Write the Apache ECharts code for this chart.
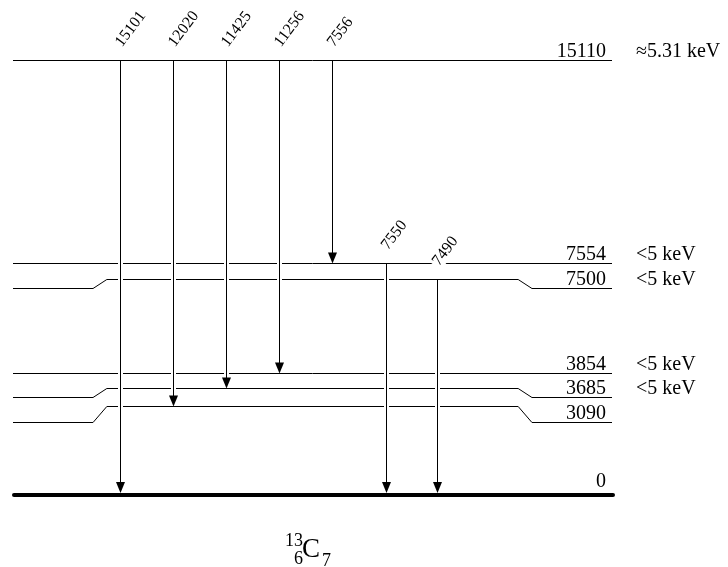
<!DOCTYPE html>
<html>
<head>
<meta charset="utf-8">
<script src="https://cdn.jsdelivr.net/npm/echarts@6/dist/echarts.min.js"></script>
<style>
html,body{margin:0;padding:0;background:#fff;}
#chart{width:728px;height:567px;}
</style>
</head>
<body>
<div id="chart"></div>
<script>
// ---- Data: 13C level scheme ----
// Level energies (keV) and widths
const levelEnergy = [15110, 7554, 7500, 3854, 3685, 3090, 0];
const levelWidth = ['\u22485.31 keV', '<5 keV', '<5 keV', '<5 keV', '<5 keV', '', ''];
// Schematic (drawn) position of the central part of each level, and of its outer parts
const levelDrawn = [15110, 8030, 7490, 4225, 3669, 3043, 0];
const levelSideDrawn = [null, null, 7180, null, 3356, 2521, null];

// Gamma transitions
const gammaEnergy = [15101, 12020, 11425, 11256, 7556, 7550, 7490];
const gammaFrom = [15110, 15110, 15110, 15110, 15110, 7554, 7500];
const gammaTo = [0, 3090, 3685, 3854, 7554, 0, 0];
const gammaColumn = [2.02, 3.02, 4.03, 5.02, 6.02, 7.05, 8.0];

const nucleus = { A: '13', Z: '6', symbol: 'C', N: '7' };

// ---- Layout constants ----
const X_MAX = 11.3;
const stepX = [1.51, 1.77, 9.53, 9.79];
const FONT = '"Liberation Serif", "Times New Roman", serif';
const LABEL_ANGLE = 53 * Math.PI / 180;

const crisp = v => Math.round(v - 0.5) + 0.5;

function renderLevel(params, api) {
  const i = params.dataIndex;
  const d = levelDrawn[i], s = levelSideDrawn[i];
  let pts = (s == null)
    ? [[0, d], [X_MAX, d]]
    : [[0, s], [stepX[0], s], [stepX[1], d], [stepX[2], d], [stepX[3], s], [X_MAX, s]];
  pts = pts.map(p => { const c = api.coord(p); return [c[0], crisp(c[1])]; });
  const ground = levelEnergy[i] === 0;
  const end = pts[pts.length - 1];
  const children = [];
  if (ground) {
    children.push({
      type: 'polyline',
      shape: { points: [[pts[0][0] + 1, Math.round(end[1])], [end[0] + 1, Math.round(end[1])]] },
      style: { stroke: '#000', lineWidth: 4, lineCap: 'round', fill: null }
    });
  } else {
    children.push({
      type: 'polyline',
      shape: { points: pts },
      style: { stroke: '#000', lineWidth: 1, fill: null }
    });
  }
  const ty = ground ? end[1] - 12.5 : end[1] - 9;
  children.push({
    type: 'text', x: end[0] - 6, y: ty,
    style: { text: String(levelEnergy[i]), align: 'right', verticalAlign: 'middle',
             font: '20px ' + FONT, fill: '#000' }
  });
  if (levelWidth[i]) {
    children.push({
      type: 'text', x: end[0] + 24, y: ty,
      style: { text: levelWidth[i], align: 'left', verticalAlign: 'middle',
               font: '20px ' + FONT, fill: '#000' }
    });
  }
  return { type: 'group', children };
}

function renderGamma(params, api) {
  const i = params.dataIndex;
  const fi = levelEnergy.indexOf(gammaFrom[i]);
  const ti = levelEnergy.indexOf(gammaTo[i]);
  const p0 = api.coord([gammaColumn[i], levelDrawn[fi]]);
  const p1 = api.coord([gammaColumn[i], levelDrawn[ti]]);
  const x = crisp(p0[0]);
  const y0 = crisp(p0[1]);
  const yTip = gammaTo[i] === 0 ? Math.round(p1[1]) - 2 : crisp(p1[1]);
  const ah = 11, aw = 4.5;
  return {
    type: 'group',
    children: [
      { type: 'line', shape: { x1: x, y1: y0 + 2, x2: x, y2: yTip - 2 },
        style: { stroke: '#fff', lineWidth: 5 } },
      { type: 'line', shape: { x1: x, y1: y0, x2: x, y2: yTip - ah + 1 },
        style: { stroke: '#000', lineWidth: 1 } },
      { type: 'polygon', shape: { points: [[x - aw, yTip - ah], [x + aw, yTip - ah], [x, yTip]] },
        style: { fill: '#000' } },
      { type: 'text', x: x - 3, y: y0 - 14, rotation: LABEL_ANGLE,
        style: { text: String(gammaEnergy[i]), align: 'left', verticalAlign: 'middle',
                 font: '16px ' + FONT, fill: '#000', backgroundColor: '#fff', padding: [0, 2] } }
    ]
  };
}

const chart = echarts.init(document.getElementById('chart'), null, { renderer: 'canvas' });
chart.setOption({
  animation: false,
  backgroundColor: '#fff',
  grid: { left: 13, right: 116, top: 60, bottom: 72.5 },
  xAxis: { type: 'value', min: 0, max: X_MAX, show: false },
  yAxis: { type: 'value', min: 0, max: 15110, show: false },
  series: [
    { type: 'custom', silent: true, clip: false, renderItem: renderLevel,
      data: levelDrawn.map((d, i) => [0, d]), z: 1 },
    { type: 'custom', silent: true, clip: false, renderItem: renderGamma,
      data: gammaEnergy.map((e, i) => [gammaColumn[i], levelDrawn[levelEnergy.indexOf(gammaFrom[i])]]), z: 2 }
  ],
  graphic: [
    { type: 'text', x: 303, y: 541.5, silent: true,
      style: { text: nucleus.A, font: '18px ' + FONT, fill: '#000', align: 'right', verticalAlign: 'middle' } },
    { type: 'text', x: 303, y: 559, silent: true,
      style: { text: nucleus.Z, font: '18px ' + FONT, fill: '#000', align: 'right', verticalAlign: 'middle' } },
    { type: 'text', x: 302, y: 550, silent: true,
      style: { text: nucleus.symbol, font: '27px ' + FONT, fill: '#000', align: 'left', verticalAlign: 'middle' } },
    { type: 'text', x: 322, y: 561, silent: true,
      style: { text: nucleus.N, font: '18px ' + FONT, fill: '#000', align: 'left', verticalAlign: 'middle' } }
  ]
});
</script>
</body>
</html>
